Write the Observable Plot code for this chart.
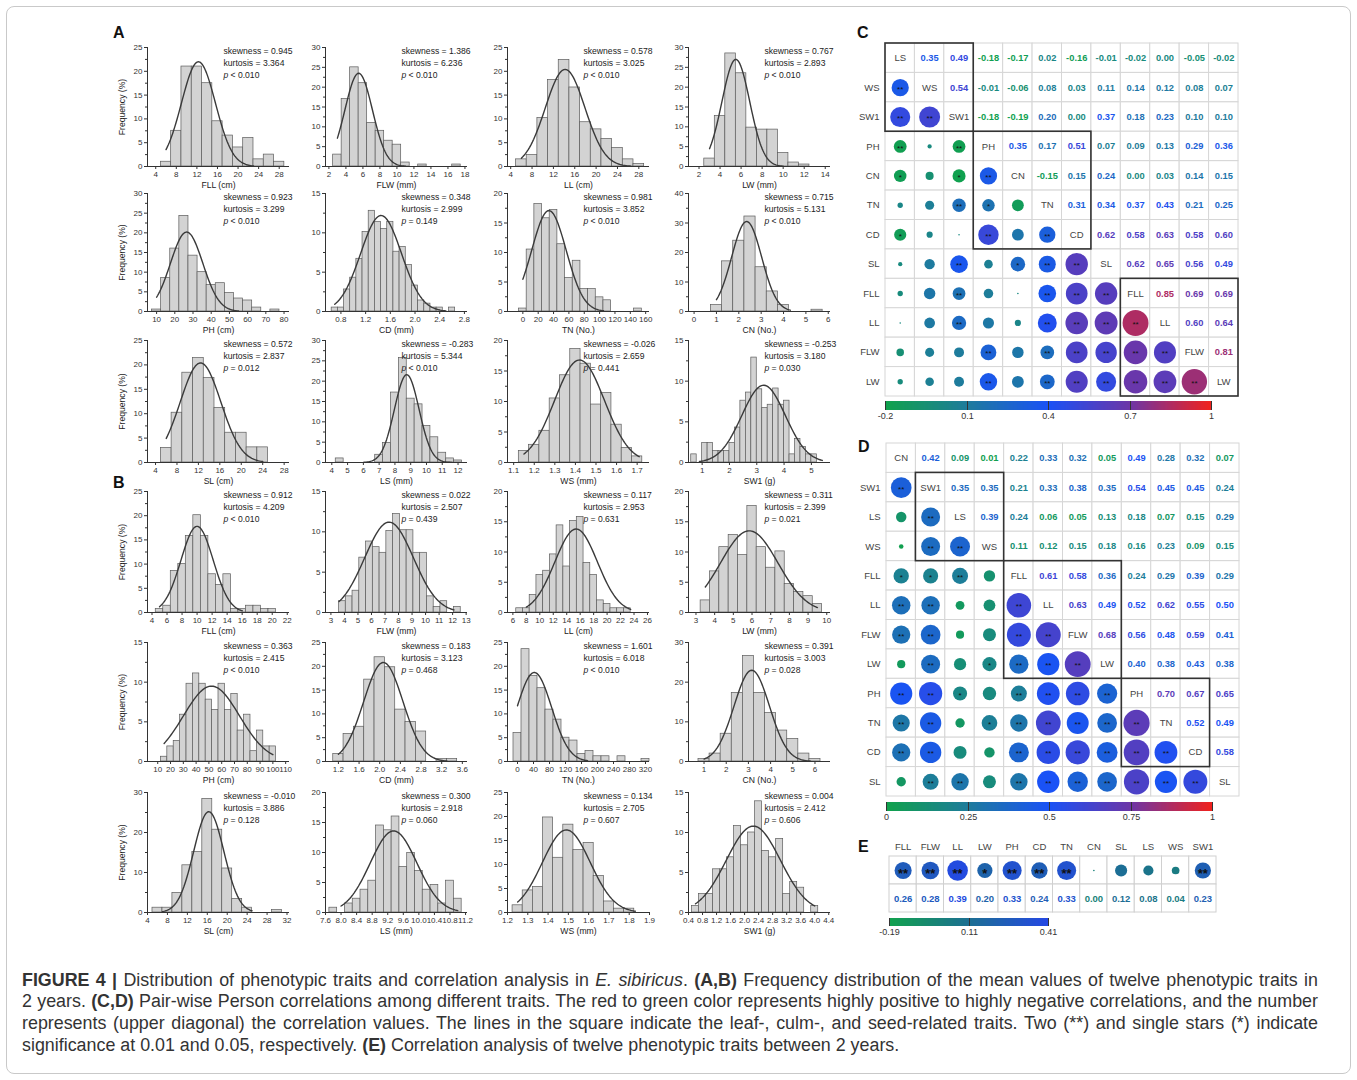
<!DOCTYPE html>
<html><head><meta charset="utf-8">
<script src="https://cdn.jsdelivr.net/npm/d3@7"></script>
<script src="https://cdn.jsdelivr.net/npm/@observablehq/plot@0.6"></script>
<style>
body{margin:0;background:#fff;width:1357px;height:1080px;position:relative;overflow:hidden;font-family:"Liberation Sans",Arial,sans-serif;}
.abs{position:absolute;}
.frame{position:absolute;left:6px;top:6px;width:1343px;height:1066px;border:1px solid #c9c9c9;border-radius:8px;}
.plabel{position:absolute;font-weight:bold;font-size:16px;color:#111;line-height:18px;}
.cap{position:absolute;left:22px;width:1296px;font-size:15px;line-height:18px;color:#333;white-space:nowrap;}
.just{text-align:justify;text-align-last:justify;}
</style></head><body>
<div class="frame"></div>
<div class="plabel" style="left:113px;top:24px">A</div>
<div class="plabel" style="left:113px;top:474px">B</div>
<div class="plabel" style="left:857px;top:24px">C</div>
<div class="plabel" style="left:858px;top:438px">D</div>
<div class="plabel" style="left:858px;top:838px">E</div>
<div class="cap just" style="top:971px"><b>FIGURE 4 |</b> Distribution of phenotypic traits and correlation analysis in <i>E. sibiricus</i>. <b>(A,B)</b> Frequency distribution of the mean values of twelve phenotypic traits in</div>
<div class="cap just" style="top:992px">2 years. <b>(C,D)</b> Pair-wise Person correlations among different traits. The red to green color represents highly positive to highly negative correlations, and the number</div>
<div class="cap just" style="top:1014px">represents (upper diagonal) the correlation values. The lines in the square indicate the leaf-, culm-, and seed-related traits. Two (**) and single stars (*) indicate</div>
<div class="cap" style="top:1036px">significance at 0.01 and 0.05, respectively. <b>(E)</b> Correlation analysis of twelve phenotypic traits between 2 years.</div>
<script>
// ---------------- Histogram data (bin centres, frequency %) ----------------
// Panel A (year 1)
const A_FLL_bins = [6,8,10,12,14,16,18,20,22,24,26,28];
const A_FLL_freq = [1,7.5,21,21,17.5,9.5,6.5,4,6,1.5,2.5,1];
const A_FLW_bins = [3,4,5,6,7,8,9,10,11,13,17];
const A_FLW_freq = [3,17,25,21,11,9,6.5,5.5,1,0.5,0.5];
const A_LL_bins = [6,8,10,12,14,16,18,20,22,24,26,28];
const A_LL_freq = [1.5,2.4,10.2,18.2,22.4,16.6,9.3,7.8,5.8,3.9,1.5,0.5];
const A_LW_bins = [3,4,5,6,7,8,9,10,11,12];
const A_LW_freq = [2,12.7,28.5,23.5,9.8,9.3,9.3,3.4,1,0.5];
const A_PH_bins = [10,15,20,25,30,35,40,45,50,55,60,65,75];
const A_PH_freq = [0.5,8.5,16,24.3,14.2,10,6.7,7.2,4.7,3.3,2.8,1,0.5];
const A_CD_bins = [0.7,0.8,0.9,1.0,1.1,1.2,1.3,1.4,1.5,1.6,1.7,1.8,1.9,2.0,2.1,2.2,2.3,2.4,2.6];
const A_CD_freq = [0.5,0.5,2.8,4.3,6.7,10.1,12.8,11.4,10.5,11.4,7.6,8.2,5.9,3.3,1.4,1.0,0.5,0.5,0.5];
const A_TN_bins = [0,10,20,30,40,50,60,70,80,90,100,110,150];
const A_TN_freq = [0.5,10.5,18.2,15.8,17.2,11.4,5.7,8.6,3.8,3.8,2.4,1.9,0.5];
const A_CN_bins = [1,1.5,2,2.5,3,3.5,4,5.5];
const A_CN_freq = [2.2,17,24,32.2,15,6.8,2.2,0.6];
const A_SL_bins = [6,8,10,12,14,16,18,20,22,24];
const A_SL_freq = [3,10.2,18.4,21.4,17.3,11.2,6.1,6.1,3.1,3.1];
const A_LS_bins = [4.5,7,7.5,8,8.5,9,9.5,10,10.5,11,11.5,12];
const A_LS_freq = [1,1.9,4.8,17.2,25.7,15.7,14.3,9,6.2,2.4,1,0.5];
const A_WS_bins = [1.15,1.2,1.25,1.3,1.35,1.4,1.45,1.5,1.55,1.6,1.65,1.7];
const A_WS_freq = [1.9,2.9,5.2,10.5,14.3,18.6,16.2,9.5,11.4,6.2,2.4,1];
const A_SW1_bins = [0.7,1.1,1.3,1.5,1.7,1.9,2.1,2.3,2.5,2.7,2.9,3.1,3.3,3.5,3.7,3.9,4.1,4.3,4.5,4.7,4.9,5.1];
const A_SW1_freq = [1,2.4,2.4,1.4,1.4,1.4,2.4,4.3,7.6,8.6,12.9,9,6.7,7.1,9.1,7.1,7.6,1,2.9,1.9,1,1];
// Panel B (year 2)
const B_FLL_bins = [5,6,7,8,9,10,11,12,13,14,15,16,17,18,19,20];
const B_FLL_freq = [0.7,1.4,8.6,10,15.8,20.1,15.8,7.9,5.7,7.9,0.7,0.7,1.4,1.4,0.7,0.7];
const B_FLW_bins = [3.85,4.35,4.85,5.35,5.85,6.35,6.85,7.35,7.85,8.35,8.85,9.35,9.85,10.35,10.85,11.35,12.35];
const B_FLW_freq = [1.4,2.0,2.7,6.8,8.8,8.1,7.4,10.1,12.2,10.2,10.2,7.4,7.4,2.0,0.7,1.4,0.7];
const B_LL_bins = [7,8,9,10,11,12,13,14,15,16,17,18,19,20,21,22,23];
const B_LL_freq = [0.7,0.7,2.9,6.2,6.9,9.6,14.4,7.6,15.1,15.8,8.2,6.2,2.0,1.4,0.7,0.7,0.7];
const B_LW_bins = [3.5,4,4.5,5,5.5,6,6.5,7,7.5,8,8.5,9,9.5];
const B_LW_freq = [2.0,6.8,10.8,12.8,9.5,17.6,10.8,7.4,10.1,4.7,3.4,2.7,1.4];
const B_PH_bins = [15,20,25,30,35,40,45,50,55,60,65,70,75,80,85,90,95,100];
const B_PH_freq = [0.6,1.9,2.6,5.9,9.8,11.1,9.8,7.8,6.5,9.8,6.5,8.5,3.9,5.9,1.3,3.9,1.9,1.9];
const B_CD_bins = [1.2,1.4,1.6,1.8,2.0,2.2,2.4,2.6,2.8,3.2,3.4];
const B_CD_freq = [1.6,5.8,7.3,17.2,21.9,19.8,10.9,8.3,6.3,0.5,0.5];
const B_TN_bins = [0,20,40,60,80,100,120,140,160,180,200,220,260,320];
const B_TN_freq = [6,23.6,18,15.4,10.9,8.8,5,4.4,1.6,2.2,1.1,1.1,1.1,0.5];
const B_CN_bins = [1,1.5,2,2.5,3,3.5,4,4.5,5,5.5,6];
const B_CN_freq = [0.6,2.0,7.0,17.3,26.6,17.3,12.2,7.8,5.7,2.0,0.6];
const B_SL_bins = [6,8,10,12,14,16,18,20,22,24,30];
const B_SL_freq = [1.2,1.2,4.9,11.8,15.1,28.4,20.7,11.0,3.4,1.2,0.6];
const B_LS_bins = [7.8,8.2,8.4,8.6,8.8,9.0,9.2,9.4,9.6,9.8,10.0,10.2,10.4,10.6,10.8,11.0];
const B_LS_freq = [0.8,1.5,2.3,3.8,5.3,14.5,13.7,16.0,7.6,9.9,6.9,3.8,4.6,1.5,5.3,2.3];
const B_WS_bins = [1.25,1.3,1.35,1.4,1.45,1.5,1.55,1.6,1.65,1.7,1.75,1.8];
const B_WS_freq = [1.5,4.6,5.3,19.8,11.4,18.3,13.0,14.5,7.6,2.3,0.8,0.8];
const B_SW1_bins = [0.6,0.8,1.0,1.2,1.4,1.6,1.8,2.0,2.2,2.4,2.6,2.8,3.0,3.2,3.4,3.6,4.0];
const B_SW1_freq = [0.8,2.3,2.3,5.4,5.4,6.9,10.8,8.4,10.0,13.9,7.7,6.9,9.2,2.3,3.8,3.1,0.8];

// x-axis labels (one per column, same for rows of A and B)
const xLabels = [["FLL (cm)","FLW (mm)","LL (cm)","LW (mm)"],["PH (cm)","CD (mm)","TN (No.)","CN (No.)"],["SL (cm)","LS (mm)","WS (mm)","SW1 (g)"]];
// stats text: skewness, kurtosis, p
const statsA = [["0.945","3.364","< 0.010"],["1.386","6.236","< 0.010"],["0.578","3.025","< 0.010"],["0.767","2.893","< 0.010"],
                ["0.923","3.299","< 0.010"],["0.348","2.999","= 0.149"],["0.981","3.852","< 0.010"],["0.715","5.131","< 0.010"],
                ["0.572","2.837","= 0.012"],["-0.283","5.344","< 0.010"],["-0.026","2.659","= 0.441"],["-0.253","3.180","= 0.030"]];
const statsB = [["0.912","4.209","< 0.010"],["0.022","2.507","= 0.439"],["0.117","2.953","= 0.631"],["0.311","2.399","= 0.021"],
                ["0.363","2.415","< 0.010"],["0.183","3.123","= 0.468"],["1.601","6.018","< 0.010"],["0.391","3.003","= 0.028"],
                ["-0.010","3.886","= 0.128"],["0.300","2.918","= 0.060"],["0.134","2.705","= 0.607"],["0.004","2.412","= 0.606"]];
// fitted normal curves: [mean, sd, peak, from, to]
const fitA = [[12.3,3.3,22,6,23],[5.5,1.62,23.5,3,11],[14.2,3.7,20.4,6,26.5],[5.5,1.32,27,3,10],
              [26.5,8.9,20.2,10,55],[1.45,0.33,12.2,0.7,2.5],[34,22.5,17.1,0,105],[2.35,0.67,30.5,1,4.3],
              [12.4,3.8,20.4,6,24],[8.75,0.78,21.6,6,11.6],[1.42,0.121,16.8,1.15,1.71],[3.25,0.8,9.5,0.9,5.4]];
const fitB = [[10,2.15,17.8,5,16],[7.3,1.8,11.2,3.6,12.1],[15.4,3.16,13.8,8,23.5],[5.85,1.54,13.5,3.5,9.5],
              [52,21.9,9.5,15,100],[2.07,0.38,20.8,1.2,3.3],[42,43.4,18.7,0,175],[3.15,0.8,23,1,5.8],
              [16.3,3.03,25.2,7,25],[9.35,0.6,13.6,8.0,11.0],[1.49,0.118,17.2,1.25,1.83],[2.25,0.77,10.8,0.6,4.0]];
// axis settings: x domain, x tick labels, tick format, y max, y step, bin width
const axesA = [
 [[2.4,30],[4,8,12,16,20,24,28],"d",25,5,2],[[1.6,18.3],[2,4,6,8,10,12,14,16,18],"d",30,5,1],[[3.4,30],[4,8,12,16,20,24,28],"d",25,5,2],[[1,14.5],[2,4,6,8,10,12,14],"d",30,5,1],
 [[5,83],[10,20,30,40,50,60,70,80],"d",30,5,5],[[0.55,2.85],[0.8,1.2,1.6,2.0,2.4,2.8],".1f",15,5,0.1],[[-20,165],[0,20,40,60,80,100,120,140,160],"d",20,5,10],[[-0.25,6.1],[0,1,2,3,4,5,6],"d",40,10,0.5],
 [[2.5,29],[4,8,12,16,20,24,28],"d",25,5,2],[[3.6,12.6],[4,5,6,7,8,9,10,11,12],"d",30,5,0.5],[[1.07,1.76],[1.1,1.2,1.3,1.4,1.5,1.6,1.7],".1f",20,5,0.05],[[0.5,5.7],[1,2,3,4,5],"d",15,5,0.2]];
const axesB = [
 [[3.4,22.3],[4,6,8,10,12,14,16,18,20,22],"d",25,5,1],[[2.6,13.1],[3,4,5,6,7,8,9,10,11,12,13],"d",15,5,0.5],[[5.2,26.3],[6,8,10,12,14,16,18,20,22,24,26],"d",20,5,1],[[2.6,10.2],[3,4,5,6,7,8,9,10],"d",20,5,0.5],
 [[2,113],[10,20,30,40,50,60,70,80,90,100,110],"d",15,5,5],[[0.95,3.7],[1.2,1.6,2.0,2.4,2.8,3.2,3.6],".1f",25,5,0.2],[[-25,330],[0,40,80,120,160,200,240,280,320],"d",25,5,20],[[0.3,6.7],[1,2,3,4,5,6],"d",30,10,0.5],
 [[4,32.5],[4,8,12,16,20,24,28,32],"d",30,10,2],[[7.6,11.25],[7.6,8.0,8.4,8.8,9.2,9.6,10.0,10.4,10.8,11.2],".1f",20,5,0.2],[[1.2,1.9],[1.2,1.3,1.4,1.5,1.6,1.7,1.8,1.9],".1f",25,5,0.05],[[0.4,4.45],[0.4,0.8,1.2,1.6,2.0,2.4,2.8,3.2,3.6,4.0,4.4],".1f",15,5,0.2]];
const binsA = [[A_FLL_bins,A_FLL_freq],[A_FLW_bins,A_FLW_freq],[A_LL_bins,A_LL_freq],[A_LW_bins,A_LW_freq],[A_PH_bins,A_PH_freq],[A_CD_bins,A_CD_freq],[A_TN_bins,A_TN_freq],[A_CN_bins,A_CN_freq],[A_SL_bins,A_SL_freq],[A_LS_bins,A_LS_freq],[A_WS_bins,A_WS_freq],[A_SW1_bins,A_SW1_freq]];
const binsB = [[B_FLL_bins,B_FLL_freq],[B_FLW_bins,B_FLW_freq],[B_LL_bins,B_LL_freq],[B_LW_bins,B_LW_freq],[B_PH_bins,B_PH_freq],[B_CD_bins,B_CD_freq],[B_TN_bins,B_TN_freq],[B_CN_bins,B_CN_freq],[B_SL_bins,B_SL_freq],[B_LS_bins,B_LS_freq],[B_WS_bins,B_WS_freq],[B_SW1_bins,B_SW1_freq]];

// ---------------- Correlation data ----------------
const traitsC = ["LS","WS","SW1","PH","CN","TN","CD","SL","FLL","LL","FLW","LW"];
const upperC = [
 [0.35,0.49,-0.18,-0.17,0.02,-0.16,-0.01,-0.02,0.00,-0.05,-0.02],
 [0.54,-0.01,-0.06,0.08,0.03,0.11,0.14,0.12,0.08,0.07],
 [-0.18,-0.19,0.20,0.00,0.37,0.18,0.23,0.10,0.10],
 [0.35,0.17,0.51,0.07,0.09,0.13,0.29,0.36],
 [-0.15,0.15,0.24,0.00,0.03,0.14,0.15],
 [0.31,0.34,0.37,0.43,0.21,0.25],
 [0.62,0.58,0.63,0.58,0.60],
 [0.62,0.65,0.56,0.49],
 [0.85,0.69,0.69],
 [0.60,0.64],
 [0.81]];
const sigC = [
 ["**"],["**","**"],["**","","**"],["*","","*","**"],["","","**","*",""],["*","","","**","","**"],
 ["","","**","","*","**","**"],["","","**","","","**","**","**"],["","","**","","","**","**","**","**"],
 ["","","","**","","**","**","**","**","**"],["","","","**","","**","**","**","**","**","**"]];
const groupsC = [["LS","WS","SW1"],["PH","CN","TN","CD"],["FLL","LL","FLW","LW"]];

const traitsD = ["CN","SW1","LS","WS","FLL","LL","FLW","LW","PH","TN","CD","SL"];
const upperD = [
 [0.42,0.09,0.01,0.22,0.33,0.32,0.05,0.49,0.28,0.32,0.07],
 [0.35,0.35,0.21,0.33,0.38,0.35,0.54,0.45,0.45,0.24],
 [0.39,0.24,0.06,0.05,0.13,0.18,0.07,0.15,0.29],
 [0.11,0.12,0.15,0.18,0.16,0.23,0.09,0.15],
 [0.61,0.58,0.36,0.24,0.29,0.39,0.29],
 [0.63,0.49,0.52,0.62,0.55,0.50],
 [0.68,0.56,0.48,0.59,0.41],
 [0.40,0.38,0.43,0.38],
 [0.70,0.67,0.65],
 [0.52,0.49],
 [0.58]];
const sigD = [
 ["**"],["","**"],["","**","**"],["*","*","**",""],["**","**","","","**"],["**","**","","","**","**"],
 ["","**","","*","**","**","**"],["**","**","*","","**","**","**","**"],["**","**","","*","**","**","**","**","**"],
 ["**","**","","","**","**","**","**","**","**"],["","**","**","","**","**","**","**","**","**","**"]];
const groupsD = [["SW1","LS","WS"],["FLL","LL","FLW","LW"],["PH","TN","CD"]];

const traitsE = ["FLL","FLW","LL","LW","PH","CD","TN","CN","SL","LS","WS","SW1"];
const corrE = [0.26,0.28,0.39,0.20,0.33,0.24,0.33,0.00,0.12,0.08,0.04,0.23];
const sigE = ["**","**","**","*","**","**","**","","","","","**"];

const colorsCD = ["#10a24c","#1e7c9c","#1a52f6","#6c36a8","#f0221e"];
const domainC = [-0.2,0.1,0.4,0.7,1];
const domainD = [0,0.25,0.5,0.75,1];
const colorsE = ["#12a24e","#1c6f92","#2448e4"];
const domainE = [-0.19,0.11,0.41];

// ---------------- Caption sizing (fit the widest justified line) ----------------
(function () {
  const caps = Array.from(document.querySelectorAll(".cap"));
  let wMax = 0;
  caps.slice(0, 3).forEach(c => {
    const probe = c.cloneNode(true);
    probe.classList.remove("just"); probe.style.width = "auto"; probe.style.visibility = "hidden";
    document.body.appendChild(probe);
    wMax = Math.max(wMax, probe.getBoundingClientRect().width);
    probe.remove();
  });
  const fs = 15 * 1290 / wMax;
  caps.forEach(c => { c.style.fontSize = fs + "px"; });
})();

// ---------------- Rendering ----------------
const FONT = '"Liberation Sans", Arial, Helvetica, sans-serif';
function place(node, left, top, w) {
  const d = document.createElement("div");
  d.className = "abs"; d.style.left = left + "px"; d.style.top = top + "px";
  if (w) d.style.width = w + "px";
  d.appendChild(node); document.body.appendChild(d);
}
const rowsY = [[47,166],[193,311],[340,462],[491,612],[642,761],[792,912]];
const colX = [147,325,507,688];
const PW = 142;

function drawHist(binPair, ax, st, fit, label, row, col) {
  const [top, zero] = rowsY[row];
  const mL = 30, mR = 48, mT = 6, mB = 28;
  const ph = zero - top;
  const W = mL + PW + mR, H = mT + ph + mB;
  const [xd, xt, fmt, ymax, ystep, bw] = ax;
  const bars = binPair[0].map((x, k) => ({x0: x - bw / 2, x1: x + bw / 2, y: binPair[1][k]}));
  const [mu, sd, peak, from, to] = fit;
  const curve = d3.range(0, 81).map(k => { const x = from + (to - from) * k / 80; return {x, y: peak * Math.exp(-0.5 * ((x - mu) / sd) ** 2)}; });
  const yMajor = d3.range(0, ymax + 1e-9, ystep);
  const yMinor = d3.range(ystep / 2, ymax, ystep);
  const txt = {frameAnchor: "top-left", textAnchor: "start", lineAnchor: "top", fontSize: 8.6, fill: "#222"};
  const marks = [
    Plot.rect(bars, {x1: "x0", x2: "x1", y1: 0, y2: "y", fill: "#d3d3d3", stroke: "#5c5c5c", strokeWidth: 0.7}),
    Plot.line(curve, {x: "x", y: "y", stroke: "#3a3a3a", strokeWidth: 1.4}),
    Plot.ruleY([0], {stroke: "#333", strokeWidth: 1}),
    Plot.ruleX([xd[0]], {stroke: "#333", strokeWidth: 1}),
    Plot.axisX({ticks: xt, tickSize: 3, tickPadding: 2, tickFormat: d3.format(fmt), label: null, fontSize: 8}),
    Plot.axisY({ticks: yMajor, tickSize: 3, tickPadding: 2, tickFormat: d3.format("d"), label: null, fontSize: 8}),
    Plot.axisY({ticks: yMinor, tickSize: 2, tickFormat: () => "", label: null}),
    Plot.text(["skewness = " + st[0]], {...txt, text: d => d, dx: 76, dy: 0}),
    Plot.text(["kurtosis = " + st[1]], {...txt, text: d => d, dx: 76, dy: 12}),
    Plot.text(["p"], {...txt, text: d => d, dx: 76, dy: 24, fontStyle: "italic"}),
    Plot.text([st[2]], {...txt, text: d => d, dx: 83, dy: 24}),
    Plot.text([label], {frameAnchor: "bottom", lineAnchor: "middle", dy: 19, fontSize: 8.6, fill: "#222", text: d => d})
  ];
  if (col === 0) marks.push(Plot.text(["Frequency (%)"], {frameAnchor: "left", textAnchor: "middle", lineAnchor: "middle", rotate: -90, dx: -25, fontSize: 8.6, fill: "#222", text: d => d}));
  const svg = Plot.plot({
    width: W, height: H, marginLeft: mL, marginRight: mR, marginTop: mT, marginBottom: mB,
    style: {fontFamily: FONT, fontSize: "8px", color: "#333", background: "transparent", overflow: "visible", maxWidth: "none"},
    x: {domain: xd}, y: {domain: [0, ymax]},
    marks
  });
  place(svg, colX[col] - mL, top - mT, W);
}
for (let k = 0; k < 12; k++) {
  const r = Math.floor(k / 4), c = k % 4;
  drawHist(binsA[k], axesA[k], statsA[k], fitA[k], xLabels[r][c], r, c);
  drawHist(binsB[k], axesB[k], statsB[k], fitB[k], xLabels[r][c], r + 3, c);
}

function drawCorr(traits, upper, sig, groups, cDom, rMax, left, top, size) {
  const n = traits.length;
  const val = (a, b) => { const i = Math.min(a, b), j = Math.max(a, b); return upper[i][j - i - 1]; };
  const cells = [];
  traits.forEach((_, r) => traits.forEach((_, c) => cells.push({r, c})));
  const lower = cells.filter(d => d.c < d.r).map(d => ({...d, v: val(d.r, d.c), s: sig[d.r - 1][d.c]}));
  const up = cells.filter(d => d.c > d.r).map(d => ({...d, v: val(d.r, d.c)}));
  const diag = traits.map((t, k) => ({r: k, c: k, t}));
  const rowLab = traits.slice(1).map((t, k) => ({r: k + 1, t}));
  const boxes = groups.map(g => ({a: traits.indexOf(g[0]), b: traits.indexOf(g[g.length - 1]) + 1}));
  const mL = 30, mT = 2, mR = 6, mB = 2;
  const svg = Plot.plot({
    width: mL + size + mR, height: mT + size + mB, marginLeft: mL, marginTop: mT, marginRight: mR, marginBottom: mB,
    style: {fontFamily: FONT, fontSize: "9px", background: "transparent", overflow: "visible", maxWidth: "none"},
    x: {domain: [0, n], axis: null}, y: {domain: [0, n], axis: null, reverse: true},
    r: {type: "sqrt", domain: [0, 1], range: [0.8, rMax]},
    color: {type: "linear", domain: cDom, range: colorsCD, interpolate: "rgb"},
    marks: [
      Plot.rect(cells, {x1: d => d.c, x2: d => d.c + 1, y1: d => d.r, y2: d => d.r + 1, fill: "white", stroke: "#d6d6d6", strokeWidth: 1}),
      Plot.dot(lower, {x: d => d.c + 0.5, y: d => d.r + 0.5, r: d => Math.abs(d.v), fill: "v", stroke: "none"}),
      Plot.text(lower, {x: d => d.c + 0.5, y: d => d.r + 0.5, text: "s", fill: "#111", fontSize: 8, dy: 1.5}),
      Plot.text(up, {x: d => d.c + 0.5, y: d => d.r + 0.5, text: d => d.v.toFixed(2), fill: "v", fontWeight: "bold", fontSize: 9.3}),
      Plot.text(diag, {x: d => d.c + 0.5, y: d => d.r + 0.5, text: "t", fill: "#444", fontSize: 9.5}),
      Plot.text(rowLab, {x: 0, y: d => d.r + 0.5, text: "t", dx: -6, textAnchor: "end", fill: "#444", fontSize: 9.5}),
      Plot.rect(boxes, {x1: "a", x2: "b", y1: "a", y2: "b", fill: "none", stroke: "#333", strokeWidth: 1.6})
    ]
  });
  place(svg, left - mL, top - mT, mL + size + mR);
}
drawCorr(traitsC, upperC, sigC, groupsC, domainC, 14, 884.5, 42.5, 353);
drawCorr(traitsD, upperD, sigD, groupsD, domainD, 15.5, 885.5, 442.5, 353);

function drawLegend(dom, range, left, top, barW, barH) {
  const leg = Plot.legend({
    color: {type: "linear", domain: dom, range, interpolate: "rgb"},
    width: barW + 20, height: barH + 18, marginLeft: 10, marginRight: 10, marginTop: 0, marginBottom: 18,
    tickSize: 0, ticks: dom, tickFormat: d => String(d), label: null,
    style: {fontFamily: FONT, fontSize: "9px", background: "transparent", color: "#333", overflow: "visible", maxWidth: "none"}
  });
  place(leg, left - 10, top, barW + 20);
}
drawLegend(domainC, colorsCD, 884.5, 401, 326, 9);
drawLegend(domainD, colorsCD, 886, 802, 326, 9);
drawLegend(domainE, colorsE, 888.5, 918, 159, 8);

// Panel E
(function () {
  const n = traitsE.length;
  const cells = [];
  traitsE.forEach((_, c) => [0, 1].forEach(r => cells.push({r, c})));
  const items = traitsE.map((t, c) => ({c, t, v: corrE[c], s: sigE[c]}));
  const mL = 10, mT = 20, mR = 6, mB = 2, w = 327, h = 56;
  const svg = Plot.plot({
    width: mL + w + mR, height: mT + h + mB, marginLeft: mL, marginTop: mT, marginRight: mR, marginBottom: mB,
    style: {fontFamily: FONT, fontSize: "9px", background: "transparent", overflow: "visible", maxWidth: "none"},
    x: {domain: [0, n], axis: null}, y: {domain: [0, 2], axis: null, reverse: true},
    r: {type: "sqrt", domain: [0, 1], range: [0.8, 16]},
    color: {type: "linear", domain: domainE, range: colorsE, interpolate: "rgb"},
    marks: [
      Plot.rect(cells, {x1: d => d.c, x2: d => d.c + 1, y1: d => d.r, y2: d => d.r + 1, fill: "white", stroke: "#d0d0d0"}),
      Plot.dot(items, {x: d => d.c + 0.5, y: 0.5, r: d => Math.abs(d.v), fill: "v"}),
      Plot.text(items, {x: d => d.c + 0.5, y: 0.5, text: "s", fill: "#111", fontSize: 13, fontWeight: "bold", dy: 3}),
      Plot.text(items, {x: d => d.c + 0.5, y: 1.5, text: d => d.v.toFixed(2), fill: "v", fontWeight: "bold", fontSize: 9.5}),
      Plot.text(items, {x: d => d.c + 0.5, y: 0, dy: -10, text: "t", fill: "#444", fontSize: 9.5})
    ]
  });
  place(svg, 888.5 - mL, 856 - mT, mL + w + mR);
})();
</script>
</body></html>
